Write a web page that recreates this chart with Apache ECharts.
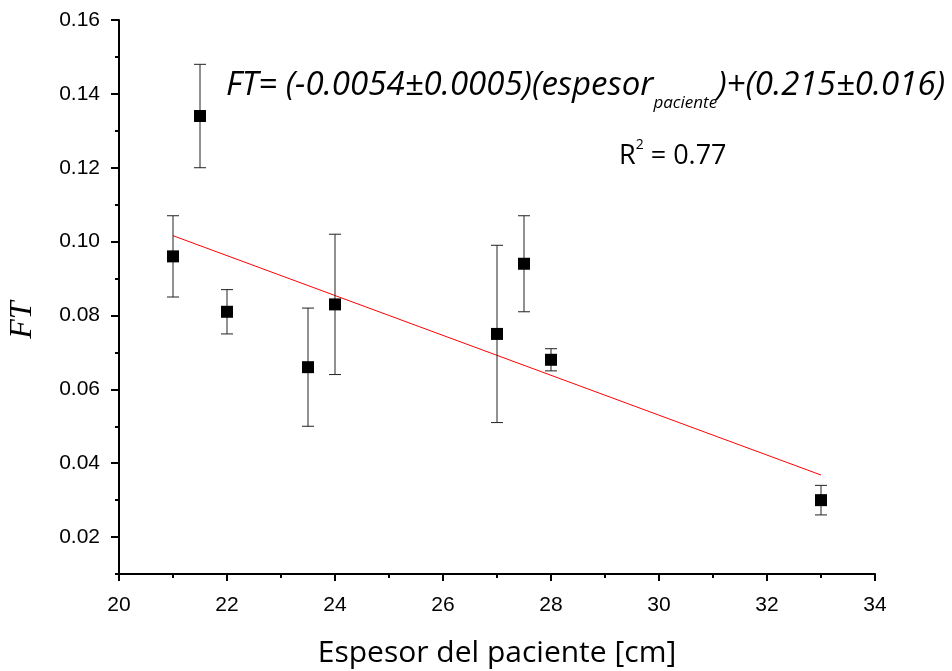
<!DOCTYPE html>
<html>
<head>
<meta charset="utf-8">
<script src="https://cdn.jsdelivr.net/npm/echarts@6/dist/echarts.min.js"></script>
<style>
html, body { margin: 0; padding: 0; background: #fff; }
#chartScatter { width: 952px; height: 671px; }
</style>
</head>
<body>
<div id="chartScatter"></div>
<script>
// espesor del paciente [cm] y factor FT medido, con barras de error
var espesor = [21, 21.5, 22, 23.5, 24, 27, 27.5, 28, 33];
var ftValues = [0.096, 0.134, 0.081, 0.066, 0.083, 0.075, 0.094, 0.068, 0.030];
var ftLow = [0.085, 0.120, 0.075, 0.050, 0.064, 0.051, 0.081, 0.065, 0.026];
var ftHigh = [0.107, 0.148, 0.087, 0.082, 0.102, 0.099, 0.107, 0.071, 0.034];
var yTicks = [0.02, 0.04, 0.06, 0.08, 0.10, 0.12, 0.14, 0.16];
// ajuste lineal
var fitSlope = -0.0054;
var fitIntercept = 0.215;
var fitRange = [21, 33];

var chart = echarts.init(document.getElementById('chartScatter'));

var points = espesor.map(function (x, i) { return [x, ftValues[i]]; });
var errors = espesor.map(function (x, i) { return [x, ftLow[i], ftHigh[i]]; });
var fitLine = fitRange.map(function (x) { return [x, fitSlope * x + fitIntercept]; });

var tickFont = { color: '#000', fontSize: 21, fontFamily: 'Liberation Sans' };

chart.setOption({
  animation: false,
  grid: { left: 119, right: 77, top: 20, bottom: 97, outerBoundsMode: 'none' },
  xAxis: {
    type: 'value',
    min: 20,
    max: 34,
    interval: 2,
    name: 'Espesor del paciente [cm]',
    nameLocation: 'middle',
    nameGap: 64,
    nameTextStyle: { color: '#000', fontSize: 30, fontFamily: 'Open Sans' },
    axisLine: { lineStyle: { color: '#000', width: 2 } },
    axisTick: { length: 7, lineStyle: { color: '#000', width: 2 } },
    minorTick: { show: true, splitNumber: 2, length: 4, lineStyle: { color: '#000', width: 2 } },
    axisLabel: Object.assign({ margin: 21 }, tickFont),
    splitLine: { show: false }
  },
  yAxis: [
    {
      type: 'value',
      min: 0.01,
      max: 0.16,
      axisLine: { lineStyle: { color: '#000', width: 2 } },
      axisTick: { customValues: yTicks, length: 8, lineStyle: { color: '#000', width: 2 } },
      axisLabel: Object.assign({
        customValues: yTicks,
        margin: 19,
        formatter: function (v) { return v.toFixed(2); }
      }, tickFont),
      splitLine: { show: false }
    },
    {
      // ticks menores
      type: 'value',
      position: 'left',
      min: 0.01,
      max: 0.16,
      interval: 0.01,
      axisLine: { show: false },
      axisTick: { length: 4, lineStyle: { color: '#000', width: 2 } },
      axisLabel: { show: false },
      splitLine: { show: false }
    }
  ],
  series: [
    {
      type: 'line',
      data: fitLine,
      yAxisIndex: 0,
      symbol: 'none',
      lineStyle: { color: '#ff0000', width: 1 },
      z: 1
    },
    {
      type: 'custom',
      data: errors,
      yAxisIndex: 0,
      z: 2,
      renderItem: function (params, api) {
        var x = api.value(0);
        var lo = api.coord([x, api.value(1)]);
        var hi = api.coord([x, api.value(2)]);
        var cap = 6;
        var st = { stroke: '#222', lineWidth: 1 };
        return {
          type: 'group',
          children: [
            { type: 'line', shape: { x1: lo[0], y1: lo[1], x2: hi[0], y2: hi[1] }, style: st },
            { type: 'line', shape: { x1: lo[0] - cap, y1: lo[1], x2: lo[0] + cap, y2: lo[1] }, style: st },
            { type: 'line', shape: { x1: hi[0] - cap, y1: hi[1], x2: hi[0] + cap, y2: hi[1] }, style: st }
          ]
        };
      }
    },
    {
      type: 'scatter',
      data: points,
      yAxisIndex: 0,
      symbol: 'rect',
      symbolSize: 12,
      itemStyle: { color: '#000', opacity: 1 },
      z: 3
    }
  ],
  graphic: [
    {
      type: 'text',
      x: 23,
      y: 320,
      rotation: Math.PI / 2,
      style: {
        text: 'FT',
        fontSize: 32,
        fontStyle: 'italic',
        fontFamily: 'Liberation Serif',
        fill: '#000',
        align: 'center',
        verticalAlign: 'middle'
      }
    },
    {
      type: 'text',
      left: 226,
      top: 59,
      style: {
        text: '{m|FT= (-0.0054±0.0005)(espesor}{s|paciente}{m|)+(0.215±0.016)}',
        rich: {
          m: { fontSize: 33, fontStyle: 'italic', fontFamily: 'Open Sans', fill: '#000', lineHeight: 40 },
          s: { fontSize: 17, fontStyle: 'italic', fontFamily: 'Open Sans', fill: '#000', lineHeight: 17, padding: [36, 0, 0, 0] }
        }
      }
    },
    {
      type: 'text',
      left: 619,
      top: 138,
      style: {
        text: '{r|R}{p|2}{r| = 0.77}',
        rich: {
          r: { fontSize: 27, fontFamily: 'Open Sans', fill: '#000', lineHeight: 34 },
          p: { fontSize: 14, fontFamily: 'Open Sans', fill: '#000', lineHeight: 14, padding: [0, 0, 22, 0] }
        }
      }
    }
  ]
});
</script>
</body>
</html>
